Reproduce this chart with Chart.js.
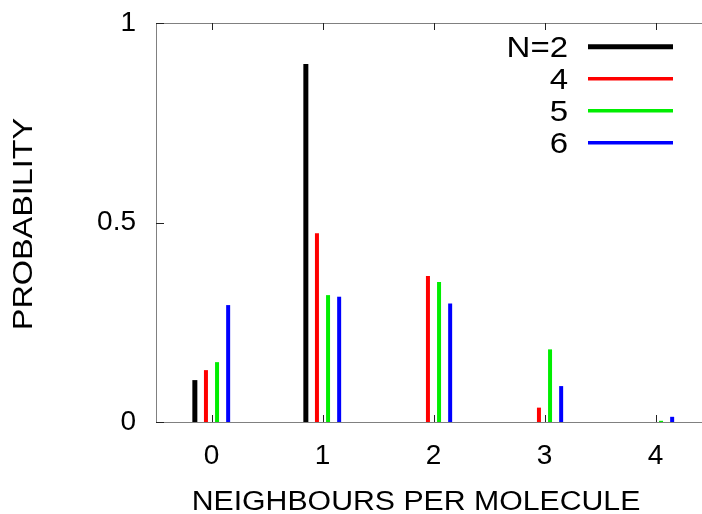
<!DOCTYPE html>
<html><head><meta charset="utf-8">
<style>
html,body{margin:0;padding:0;overflow:hidden;background:#fff;width:702px;height:514px}
canvas{display:block}
</style>
<script src="https://cdn.jsdelivr.net/npm/chart.js@4"></script>
</head><body>
<canvas id="c" width="712" height="514" style="width:712px;height:514px"></canvas>
<script>
// ---- data ----
const categories = ['0', '1', '2', '3', '4'];
const seriesLabels = ['N=2', '4', '5', '6'];
const n2 = [0.105, 0.897, 0, 0, 0];
const n4 = [0.130, 0.473, 0.366, 0.036, 0];
const n5 = [0.150, 0.318, 0.351, 0.182, 0.003];
const n6 = [0.293, 0.314, 0.297, 0.090, 0.013];
const yTicks = [0, 0.5, 1];
const xTitle = 'NEIGHBOURS PER MOLECULE';
const yTitle = 'PROBABILITY';

const FONT = '"Liberation Sans", Arial, Helvetica, sans-serif';
const colors = ['#000000', '#ff0000', '#00ee00', '#0000ff'];
const barW = [5, 4, 4, 4];
const legendW = [5, 3.5, 3.5, 3.5];

const values = [n2, n4, n5, n6];
const datasets = values.map((v, i) => ({
  label: seriesLabels[i],
  data: v,
  backgroundColor: colors[i],
  borderColor: colors[i],
  borderWidth: 0,
  categoryPercentage: 0.4,
  barPercentage: 0.95,
  maxBarThickness: barW[i],
  xAxisID: 'x',
  yAxisID: 'y'
}));

function stretchedText(ctx, text, cx, cy, size, sx, rot, align) {
  ctx.save();
  ctx.translate(cx, cy);
  ctx.rotate(rot);
  ctx.scale(sx, 1);
  ctx.font = size + 'px ' + FONT;
  ctx.fillStyle = '#000';
  ctx.textAlign = align || 'center';
  ctx.textBaseline = 'alphabetic';
  ctx.fillText(text, 0, 0.358 * size);
  ctx.restore();
}

const decor = {
  id: 'decor',
  afterDraw(chart) {
    const ctx = chart.ctx;
    const a = chart.chartArea;
    const xs = chart.scales.x, ys = chart.scales.y;
    ctx.save();
    // inward tick marks
    ctx.strokeStyle = '#222';
    ctx.lineWidth = 1;
    ctx.beginPath();
    categories.forEach((c, i) => {
      const px = Math.round(xs.getPixelForValue(i)) + 0.5;
      ctx.moveTo(px, a.bottom); ctx.lineTo(px, a.bottom - 7);
      ctx.moveTo(px, a.top); ctx.lineTo(px, a.top + 7);
    });
    yTicks.forEach(t => {
      const py = Math.round(ys.getPixelForValue(t)) + 0.5;
      ctx.moveTo(a.left, py); ctx.lineTo(a.left + 8, py);
    });
    ctx.stroke();
    // legend
    chart.data.datasets.forEach((ds, i) => {
      const y = 46.7 + i * 32;
      stretchedText(ctx, ds.label, 568, y, 30, 1.1, 0, 'right');
      ctx.strokeStyle = ds.borderColor;
      ctx.lineWidth = legendW[i];
      ctx.beginPath();
      ctx.moveTo(588, y); ctx.lineTo(673, y);
      ctx.stroke();
    });
    // axis titles
    stretchedText(ctx, xTitle, 416, 500.5, 27, 1.12, 0);
    stretchedText(ctx, yTitle, 22, 224, 27, 1.2, -Math.PI / 2);
    ctx.restore();
  }
};

new Chart(document.getElementById('c'), {
  type: 'bar',
  data: { labels: categories, datasets },
  options: {
    responsive: false,
    animation: false,
    devicePixelRatio: 1,
    layout: { padding: { left: 0, right: 1, top: 0, bottom: 0 } },
    plugins: { legend: { display: false }, tooltip: { enabled: false } },
    scales: {
      x: {
        type: 'category',
        position: 'bottom',
        offset: true,
        grid: { display: false, drawTicks: false },
        border: { display: true, color: '#808080', width: 1 },
        ticks: { color: '#000', font: { family: FONT, size: 28 }, padding: 17, maxRotation: 0, autoSkip: false },
        afterFit(s) { s.height = 92; s.paddingLeft = 0; s.paddingRight = 0; }
      },
      x2: {
        type: 'category',
        labels: categories,
        position: 'top',
        offset: true,
        grid: { display: false, drawTicks: false },
        border: { display: true, color: '#808080', width: 1 },
        ticks: { display: false },
        afterFit(s) { s.height = 23; s.paddingLeft = 0; s.paddingRight = 0; }
      },
      y: {
        type: 'linear',
        position: 'left',
        min: 0, max: 1,
        grid: { display: false, drawTicks: false },
        border: { display: true, color: '#808080', width: 1 },
        afterBuildTicks(s) { s.ticks = yTicks.map(v => ({ value: v })); },
        ticks: { color: '#000', font: { family: FONT, size: 28 }, padding: 20,
                 callback: v => String(v) },
        afterFit(s) { s.width = 156; s.paddingTop = 0; s.paddingBottom = 0; }
      }
    }
  },
  plugins: [decor]
});
</script>
</body></html>
